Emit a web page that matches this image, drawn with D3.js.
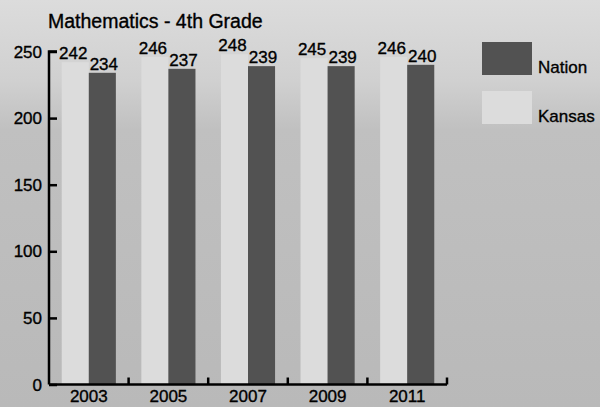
<!DOCTYPE html>
<html>
<head>
<meta charset="utf-8">
<script src="https://cdn.jsdelivr.net/npm/d3@7/dist/d3.min.js"></script>
<style>
  html, body { margin: 0; padding: 0; background: #c4c4c4; }
  svg { display: block; font-family: "Liberation Sans", Arial, sans-serif; }
  svg text { fill: #000; stroke: #000; stroke-width: 0.35px; }
</style>
</head>
<body>
<svg id="chart" width="600" height="407"></svg>
<script>
// Average 4th-grade mathematics scale scores by assessment year
const years = ["2003", "2005", "2007", "2009", "2011"];
const seriesNames = ["Kansas", "Nation"];
const kansas = [242, 246, 248, 245, 246];
const nation = [234, 237, 239, 239, 240];
const yTicks = [0, 50, 100, 150, 200, 250];
const title = "Mathematics - 4th Grade";

const colors = { Kansas: "#dcdcdc", Nation: "#525252" };

const svg = d3.select("#chart");
const W = 600, H = 407;

// backdrop: lighter band at the top fading into mid gray
const defs = svg.append("defs");
const grad = defs.append("linearGradient").attr("id", "bg")
  .attr("x1", 0).attr("y1", 0).attr("x2", 0).attr("y2", 1);
grad.append("stop").attr("offset", "0%").attr("stop-color", "#dcdcdc");
grad.append("stop").attr("offset", "20%").attr("stop-color", "#d0d0d0");
grad.append("stop").attr("offset", "32%").attr("stop-color", "#c0c0c0");
grad.append("stop").attr("offset", "100%").attr("stop-color", "#b9b9b9");
svg.append("rect").attr("width", W).attr("height", H).attr("fill", "url(#bg)");

const plot = { left: 49, right: 447, top: 51.5, bottom: 384.5 };

const x0 = d3.scaleBand().domain(years)
  .range([plot.left, plot.right])
  .paddingInner(0.32).paddingOuter(0.16);
const x1 = d3.scaleBand().domain(seriesNames)
  .range([0, x0.bandwidth()]);
const y = d3.scaleLinear().domain([0, 250]).range([plot.bottom, plot.top]);

const rows = years.map((yr, i) => ({ year: yr, Kansas: kansas[i], Nation: nation[i] }));

// bars
const groups = svg.append("g").selectAll("g").data(rows).join("g")
  .attr("transform", d => `translate(${x0(d.year)},0)`);

groups.selectAll("rect").data(d => seriesNames.map(k => ({ key: k, value: d[k] })))
  .join("rect")
  .attr("x", d => x1(d.key))
  .attr("width", x1.bandwidth())
  .attr("y", d => y(d.value))
  .attr("height", d => y(0) - y(d.value))
  .attr("fill", d => colors[d.key]);

// value labels
groups.selectAll("text").data(d => seriesNames.map(k => ({ key: k, value: d[k] })))
  .join("text")
  .attr("x", d => x1(d.key) + x1.bandwidth() / 2 + (d.key === "Kansas" ? -2 : 1.5))
  .attr("y", d => y(d.value) - 3)
  .attr("text-anchor", "middle")
  .attr("font-size", 17)
  .text(d => d.value);

// y axis: ticks point inward
const yAxis = d3.axisRight(y).tickValues(yTicks).tickSize(8).tickFormat("");
const yg = svg.append("g").attr("transform", `translate(${plot.left},0)`).call(yAxis);
yg.select(".domain").attr("stroke", "#000").attr("stroke-width", 2.5)
  .attr("d", `M8,${plot.top}H0V${plot.bottom}`);
yg.selectAll(".tick line").attr("stroke", "#000").attr("stroke-width", 2.5);

svg.append("g").selectAll("text").data(yTicks).join("text")
  .attr("x", plot.left - 7)
  .attr("y", d => y(d) + 6)
  .attr("text-anchor", "end")
  .attr("font-size", 17)
  .text(d => d);

// x axis: baseline with short upward ticks between year groups
const step = x0.step();
const boundaries = years.map((yr, i) => x0(yr) - x0.paddingInner() * step / 2 + step);
const xg = svg.append("g");
xg.append("line")
  .attr("x1", plot.left).attr("x2", plot.right)
  .attr("y1", plot.bottom).attr("y2", plot.bottom)
  .attr("stroke", "#000").attr("stroke-width", 2.5);
xg.selectAll("line.tk").data(boundaries).join("line").attr("class", "tk")
  .attr("x1", d => d).attr("x2", d => d)
  .attr("y1", plot.bottom).attr("y2", plot.bottom - 7)
  .attr("stroke", "#000").attr("stroke-width", 2.5);
xg.selectAll("text").data(years).join("text")
  .attr("x", d => x0(d) + x0.bandwidth() / 2)
  .attr("y", 402)
  .attr("text-anchor", "middle")
  .attr("font-size", 17)
  .text(d => d);

// title
svg.append("text")
  .attr("x", 48).attr("y", 28)
  .attr("font-size", 19.5)
  .text(title);

// legend
const legend = svg.append("g").selectAll("g").data(["Nation", "Kansas"]).join("g")
  .attr("transform", (d, i) => `translate(482,${42 + i * 49})`);
legend.append("rect")
  .attr("width", 50).attr("height", 33)
  .attr("fill", d => colors[d]);
legend.append("text")
  .attr("x", 56).attr("y", 31)
  .attr("font-size", 17)
  .text(d => d);
</script>
</body>
</html>
